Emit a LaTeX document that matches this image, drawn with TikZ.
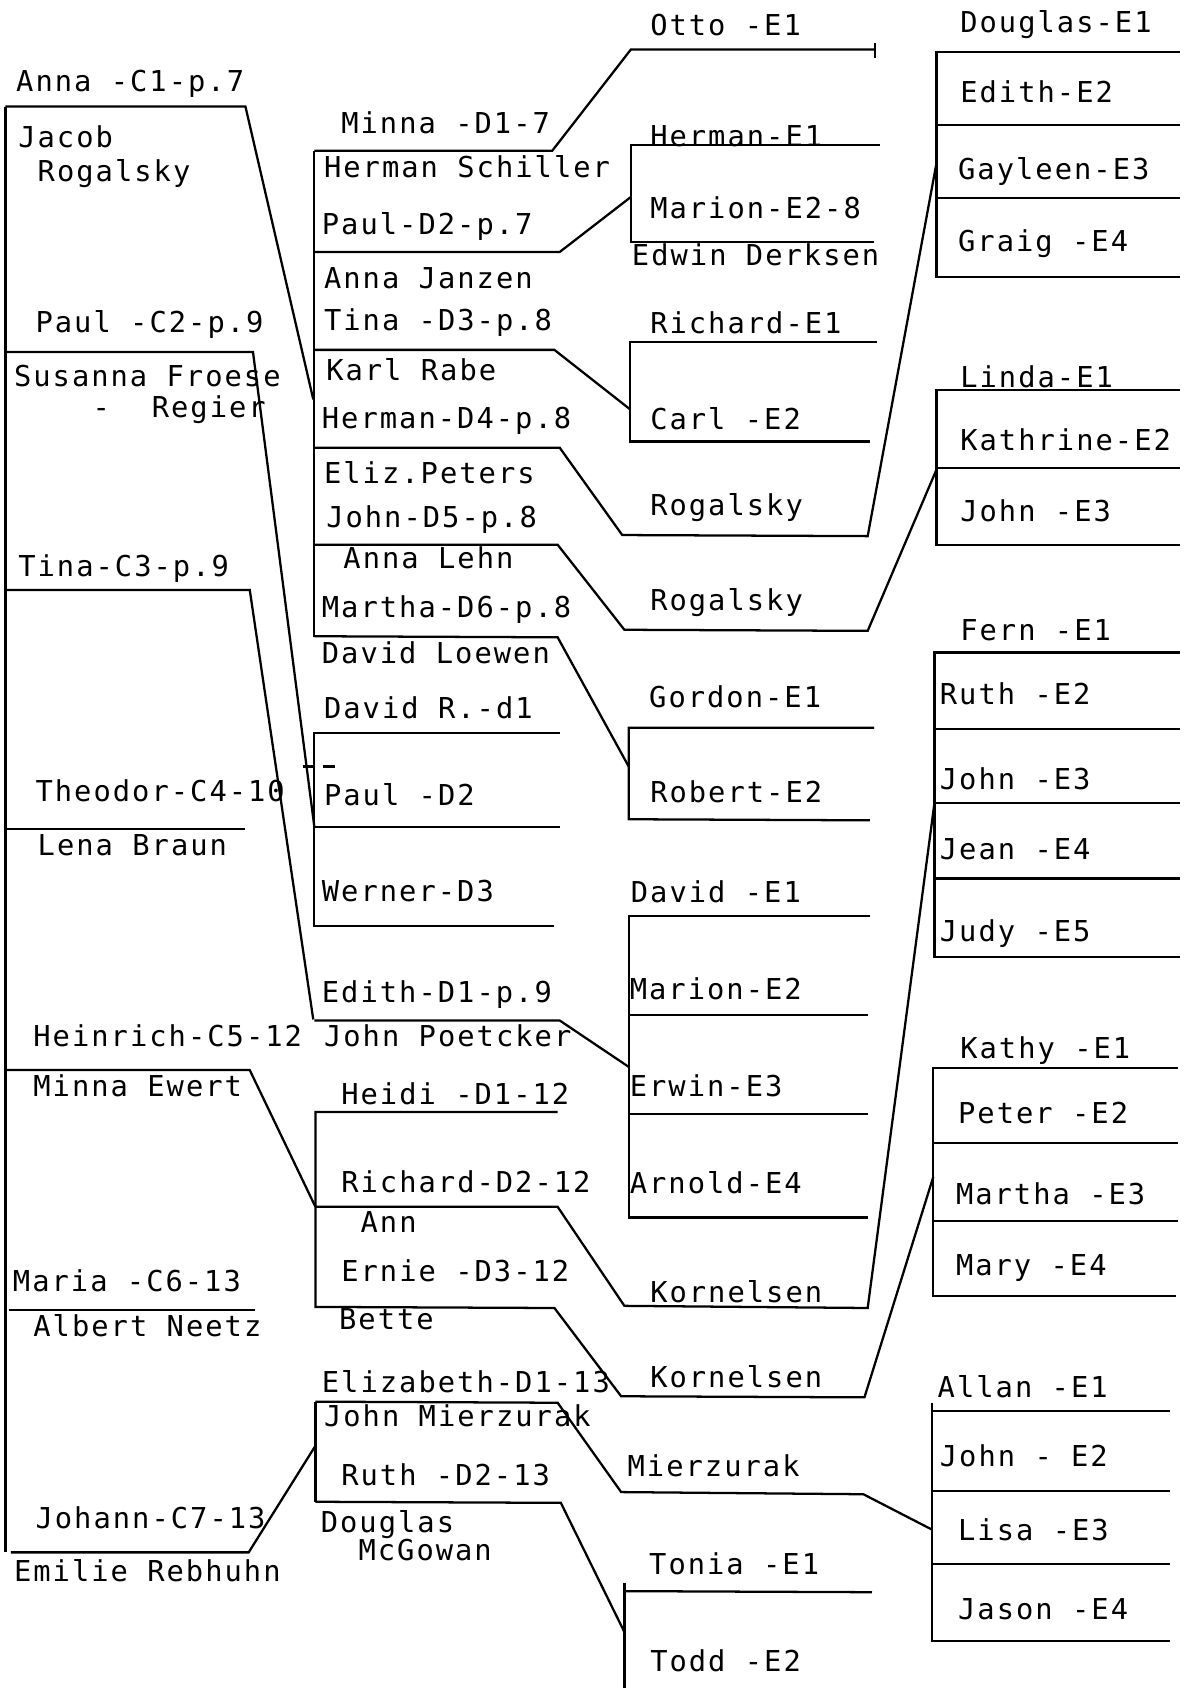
\documentclass[tikz,border=0pt]{standalone}
\usepackage{fontspec}
\usepackage{tikz}
\newfontfamily\typefont{DejaVu Sans Mono}[LetterSpace=7]

\begin{document}
\begin{tikzpicture}[x=0.025cm,y=-0.025cm,line width=1.5pt]
\tikzset{lbl/.style={anchor=west,inner sep=0pt,text height=13.9pt,text depth=0pt,font=\typefont\fontsize{19}{22}\selectfont}}
\useasboundingbox (0,0) rectangle (1104,1568);

% Draw C generation
\draw (5,99) -- (5,1442);
\draw (5,99) -- (228,99) -- (291,371);
\draw (5,327) -- (235,327) -- (292,768);
\draw (5,548) -- (232,548) -- (291,947);
\draw (5,770) -- (228,770);
\draw (5,994) -- (232,994) -- (293,1121);
\draw (8,1217) -- (237,1217);
\draw (10,1442) -- (231,1442) -- (293,1343);

% Draw D generation
\draw (292,140) -- (292,592);
\draw (292,140) -- (513,140) -- (586,46) -- (813,46);
\draw (813,40) -- (813,54);
\draw (292,234) -- (520,234) -- (586,183);
\draw (292,325) -- (515,325) -- (585,380);
\draw (292,416) -- (520,416) -- (578,497) -- (806,498) -- (870,151);
\draw (292,506) -- (518,506) -- (580,585) -- (806,586) -- (870,436);
\draw (292,591) -- (518,592) -- (584,712);
\draw (520,681) -- (292,681) -- (292,860) -- (515,860);
\draw (292,768) -- (520,768);
\draw (281,712) -- (291,712);
\draw (300,712) -- (311,712);
\draw (292,948) -- (520,948) -- (584,991);
\draw (518,1033) -- (293,1033) -- (293,1214) -- (515,1215) -- (577,1297) -- (803,1298) -- (867,1093);
\draw (293,1121) -- (518,1121) -- (580,1213) -- (806,1215) -- (868,746);
\draw (293,1302) -- (293,1395);
\draw (293,1302) -- (518,1303) -- (577,1386) -- (802,1388) -- (866,1421);
\draw (293,1395) -- (521,1396) -- (580,1516);

% Draw E generation
\draw (817,135) -- (586,135) -- (586,225) -- (812,225);
\draw (815,318) -- (585,318) -- (585,410) -- (808,410);
\draw (812,676) -- (584,676) -- (584,761) -- (808,762);
\draw (808,851) -- (584,851) -- (584,1131) -- (806,1131);
\draw (584,943) -- (806,943);
\draw (584,1035) -- (806,1035);
\draw (580,1470) -- (580,1568);
\draw (580,1478) -- (810,1479);

% Draw F generation
\draw (1096,48) -- (870,48) -- (870,257) -- (1096,257);
\draw (870,116) -- (1096,116);
\draw (870,184) -- (1096,184);
\draw (1096,362) -- (870,362) -- (870,506) -- (1096,506);
\draw (870,435) -- (1096,435);
\draw (1096,606) -- (868,606) -- (868,889) -- (1096,889);
\draw (868,677) -- (1096,677);
\draw (868,746) -- (1096,746);
\draw (868,816) -- (1096,816);
\draw (1094,992) -- (867,992) -- (867,1204) -- (1092,1204);
\draw (867,1062) -- (1094,1062);
\draw (867,1134) -- (1094,1134);
\draw (866,1303) -- (866,1524) -- (1087,1524);
\draw (866,1311) -- (1087,1311);
\draw (866,1385) -- (1087,1385);
\draw (866,1453) -- (1087,1453);

% Add C names
\node[lbl] (anna) at (14,75) {Anna -C1-p.7};
\node[lbl] (jacob) at (16,127) {Jacob};
\node[lbl] (rogalsky) at (34,159) {Rogalsky};
\node[lbl] (paulC) at (32,299) {Paul -C2-p.9};
\node[lbl] (susanna) at (12,349) {Susanna Froese};
\node[lbl] (dash) at (85,378) {-};
\node[lbl] (regier) at (140,378) {Regier};
\node[lbl] (tinaC) at (16,526) {Tina-C3-p.9};
\node[lbl] (theodor) at (32,735) {Theodor-C4-10};
\node[lbl] (lena) at (34,785) {Lena Braun};
\node[lbl] (heinrich) at (30,962) {Heinrich-C5-12};
\node[lbl] (minnaE) at (30,1009) {Minna Ewert};
\node[lbl] (maria) at (11,1190) {Maria -C6-13};
\node[lbl] (albert) at (30,1232) {Albert Neetz};
\node[lbl] (johann) at (32,1410) {Johann-C7-13};
\node[lbl] (emilie) at (12,1459) {Emilie Rebhuhn};

% Add D names
\node[lbl] (minna) at (316,114) {Minna -D1-7};
\node[lbl] (schiller) at (300,155) {Herman Schiller};
\node[lbl] (paulD) at (298,208) {Paul-D2-p.7};
\node[lbl] (janzen) at (300,258) {Anna Janzen};
\node[lbl] (tinaD) at (300,297) {Tina -D3-p.8};
\node[lbl] (rabe) at (302,344) {Karl Rabe};
\node[lbl] (hermanD) at (298,388) {Herman-D4-p.8};
\node[lbl] (peters) at (300,439) {Eliz.Peters};
\node[lbl] (johnD) at (302,480) {John-D5-p.8};
\node[lbl] (lehn) at (318,518) {Anna Lehn};
\node[lbl] (marthaD) at (298,564) {Martha-D6-p.8};
\node[lbl] (loewen) at (298,607) {David Loewen};
\node[lbl] (davidR) at (300,658) {David R.-d1};
\node[lbl] (paulDii) at (300,738) {Paul -D2};
\node[lbl] (werner) at (298,828) {Werner-D3};
\node[lbl] (edithD) at (298,921) {Edith-D1-p.9};
\node[lbl] (poetcker) at (300,962) {John Poetcker};
\node[lbl] (heidi) at (316,1016) {Heidi -D1-12};
\node[lbl] (richardD) at (316,1098) {Richard-D2-12};
\node[lbl] (ann) at (334,1135) {Ann};
\node[lbl] (ernie) at (316,1181) {Ernie -D3-12};
\node[lbl] (bette) at (314,1225) {Bette};
\node[lbl] (elizabeth) at (298,1284) {Elizabeth-D1-13};
\node[lbl] (mierzurakJ) at (300,1315) {John Mierzurak};
\node[lbl] (ruthD) at (316,1370) {Ruth -D2-13};
\node[lbl] (douglasM) at (297,1414) {Douglas};
\node[lbl] (mcgowan) at (332,1440) {McGowan};

% Add E names
\node[lbl] (otto) at (603,23) {Otto -E1};
\node[lbl] (hermanE) at (603,126) {Herman-E1};
\node[lbl] (marionE) at (603,193) {Marion-E2-8};
\node[lbl] (derksen) at (586,237) {Edwin Derksen};
\node[lbl] (richardE) at (603,300) {Richard-E1};
\node[lbl] (carl) at (603,389) {Carl -E2};
\node[lbl] (rogalskyA) at (603,469) {Rogalsky};
\node[lbl] (rogalskyB) at (603,557) {Rogalsky};
\node[lbl] (gordon) at (602,647) {Gordon-E1};
\node[lbl] (robert) at (603,736) {Robert-E2};
\node[lbl] (davidE) at (585,829) {David -E1};
\node[lbl] (marionEii) at (584,919) {Marion-E2};
\node[lbl] (erwin) at (584,1009) {Erwin-E3};
\node[lbl] (arnold) at (584,1099) {Arnold-E4};
\node[lbl] (kornelsenA) at (603,1200) {Kornelsen};
\node[lbl] (kornelsenB) at (603,1279) {Kornelsen};
\node[lbl] (mierzurak) at (582,1362) {Mierzurak};
\node[lbl] (tonia) at (602,1453) {Tonia -E1};
\node[lbl] (todd) at (603,1543) {Todd -E2};

% Add F names
\node[lbl] (douglas) at (891,20) {Douglas-E1};
\node[lbl] (edith) at (891,85) {Edith-E2};
\node[lbl] (gayleen) at (889,157) {Gayleen-E3};
\node[lbl] (graig) at (889,224) {Graig -E4};
\node[lbl] (linda) at (891,350) {Linda-E1};
\node[lbl] (kathrine) at (891,409) {Kathrine-E2};
\node[lbl] (johnF) at (891,475) {John -E3};
\node[lbl] (fern) at (891,585) {Fern -E1};
\node[lbl] (ruth) at (872,645) {Ruth -E2};
\node[lbl] (johnG) at (872,724) {John -E3};
\node[lbl] (jean) at (872,789) {Jean -E4};
\node[lbl] (judy) at (872,865) {Judy -E5};
\node[lbl] (kathy) at (891,973) {Kathy -E1};
\node[lbl] (peter) at (889,1034) {Peter -E2};
\node[lbl] (martha) at (887,1109) {Martha -E3};
\node[lbl] (mary) at (887,1175) {Mary -E4};
\node[lbl] (allan) at (870,1288) {Allan -E1};
\node[lbl] (johnH) at (872,1352) {John - E2};
\node[lbl] (lisa) at (889,1421) {Lisa -E3};
\node[lbl] (jason) at (889,1495) {Jason -E4};
\end{tikzpicture}
\end{document}
